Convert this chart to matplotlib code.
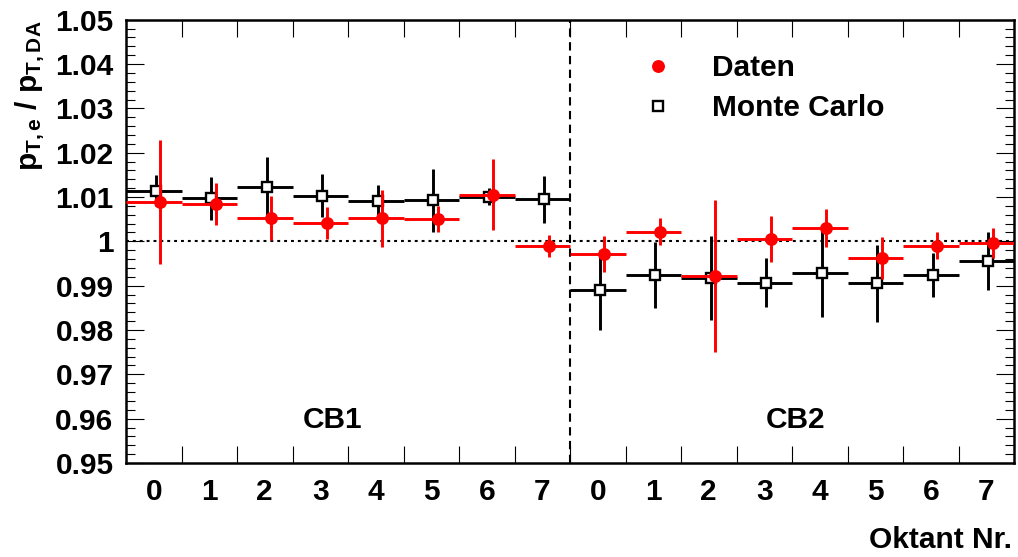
import numpy as np
import matplotlib
matplotlib.use("Agg")
import matplotlib.pyplot as plt
from matplotlib.lines import Line2D

plt.rcParams["font.family"] = ["Liberation Sans", "DejaVu Sans"]
plt.rcParams["font.weight"] = "bold"
plt.rcParams["mathtext.fontset"] = "custom"
plt.rcParams["mathtext.bf"] = "Liberation Sans:bold"
plt.rcParams["mathtext.rm"] = "Liberation Sans:bold"
plt.rcParams["mathtext.it"] = "Liberation Sans:bold"
plt.rcParams["mathtext.default"] = "bf"

# ===== data: 16 octants, CB1 (0-7) then CB2 (0-7) =====
octant_labels = ["0", "1", "2", "3", "4", "5", "6", "7"] * 2
data_val = [1.0088, 1.0084, 1.0053, 1.0041, 1.0052, 1.0050, 1.0105, 0.9990,
            0.9971, 1.0022, 0.9922, 1.0006, 1.0031, 0.9962, 0.9990, 0.9996]
data_err = [0.0140, 0.0047, 0.0050, 0.0036, 0.0064, 0.0030, 0.0080, 0.0025,
            0.0040, 0.0030, 0.0172, 0.0052, 0.0043, 0.0048, 0.0030, 0.0034]
mc_val = [1.0114, 1.0097, 1.0122, 1.0103, 1.0092, 1.0093, 1.0101, 1.0095,
          0.9890, 0.9924, 0.9917, 0.9907, 0.9929, 0.9905, 0.9924, 0.9956]
mc_err = [0.0035, 0.0049, 0.0068, 0.0049, 0.0034, 0.0071, 0.0020, 0.0053,
          0.0090, 0.0075, 0.0095, 0.0055, 0.0099, 0.0087, 0.0050, 0.0066]

n_bins = len(octant_labels)
centers = np.arange(n_bins) + 0.5
edges = np.arange(1, n_bins)

# small shifts so the two series don't sit exactly on top of each other
mc_shift = 0.04
data_shift = 0.12

fs = 21.5

fig = plt.figure(figsize=(10.18, 5.57), dpi=100)
ax = fig.add_axes([0.1238, 0.1688, 0.8723, 0.7958])

ax.errorbar(centers + mc_shift, mc_val, yerr=mc_err,
            xerr=[np.full(n_bins, 0.5 + mc_shift), np.full(n_bins, 0.5 - mc_shift)],
            fmt="s", color="black", mfc="white", mec="black", ms=7.8, mew=1.7,
            elinewidth=2.1, capsize=0, zorder=3)
ax.errorbar(centers + data_shift, data_val, yerr=data_err,
            xerr=[np.full(n_bins, 0.5 + data_shift), np.full(n_bins, 0.5 - data_shift)],
            fmt="o", color="#ff0000", ms=9.3, mew=0,
            elinewidth=2.1, capsize=0, zorder=4)

# reference lines
ax.axhline(1.0, color="black", lw=1.5, dashes=(1.4, 1.9), zorder=2)
ax.axvline(8, color="black", lw=1.5, dashes=(4, 2.6), zorder=2)

ax.set_xlim(0, n_bins)
ax.set_ylim(0.95, 1.05)

# x axis: ticks at bin edges, labels at bin centres
ax.set_xticks(edges)
ax.set_xticklabels([""] * len(edges))
ax.set_xticks(centers, minor=True)
ax.set_xticklabels(octant_labels, minor=True)
ax.tick_params(axis="x", which="major", direction="in", length=12.5, width=0.8,
               top=True, bottom=True)
ax.tick_params(axis="x", which="minor", length=0, pad=11, labelsize=fs)

# y axis: major every 0.01, minor every 0.002
ax.set_yticks(np.arange(0.95, 1.0501, 0.01))
ax.set_yticklabels(["0.95", "0.96", "0.97", "0.98", "0.99", "1",
                    "1.01", "1.02", "1.03", "1.04", "1.05"])
ax.set_yticks(np.arange(0.95, 1.0501, 0.002), minor=True)
ax.tick_params(axis="y", which="major", direction="in", length=13, width=0.8,
               left=True, right=True, pad=9, labelsize=fs)
ax.tick_params(axis="y", which="minor", direction="in", length=6.5, width=0.8,
               left=True, right=True)

for side in ax.spines.values():
    side.set_linewidth(1.8)

ax.text(3.73, 0.9597, "CB1", fontsize=fs, fontweight="bold", ha="center", va="center")
ax.text(12.07, 0.9597, "CB2", fontsize=fs, fontweight="bold", ha="center", va="center")

handles = [
    Line2D([], [], ls="none", marker="o", color="#ff0000", ms=9.3, mew=0),
    Line2D([], [], ls="none", marker="s", mfc="white", mec="black", ms=7.8, mew=1.7),
]
ax.legend(handles, ["Daten", "Monte Carlo"], loc="center left",
          bbox_to_anchor=(0.583, 0.846), frameon=False, fontsize=fs,
          handlelength=0.95, handletextpad=1.35, labelspacing=0.4,
          borderpad=0, borderaxespad=0)

fig.text(1012 / 1018, 1 - 540 / 557, "Oktant Nr.", fontsize=fs, fontweight="bold",
         ha="right", va="center")
fig.text(30 / 1018, 1 - 20 / 557, r"$p_{T,e}$ / $p_{T,DA}$", fontsize=fs,
         rotation=90, ha="center", va="top")

fig.savefig("out.png", dpi=100)
